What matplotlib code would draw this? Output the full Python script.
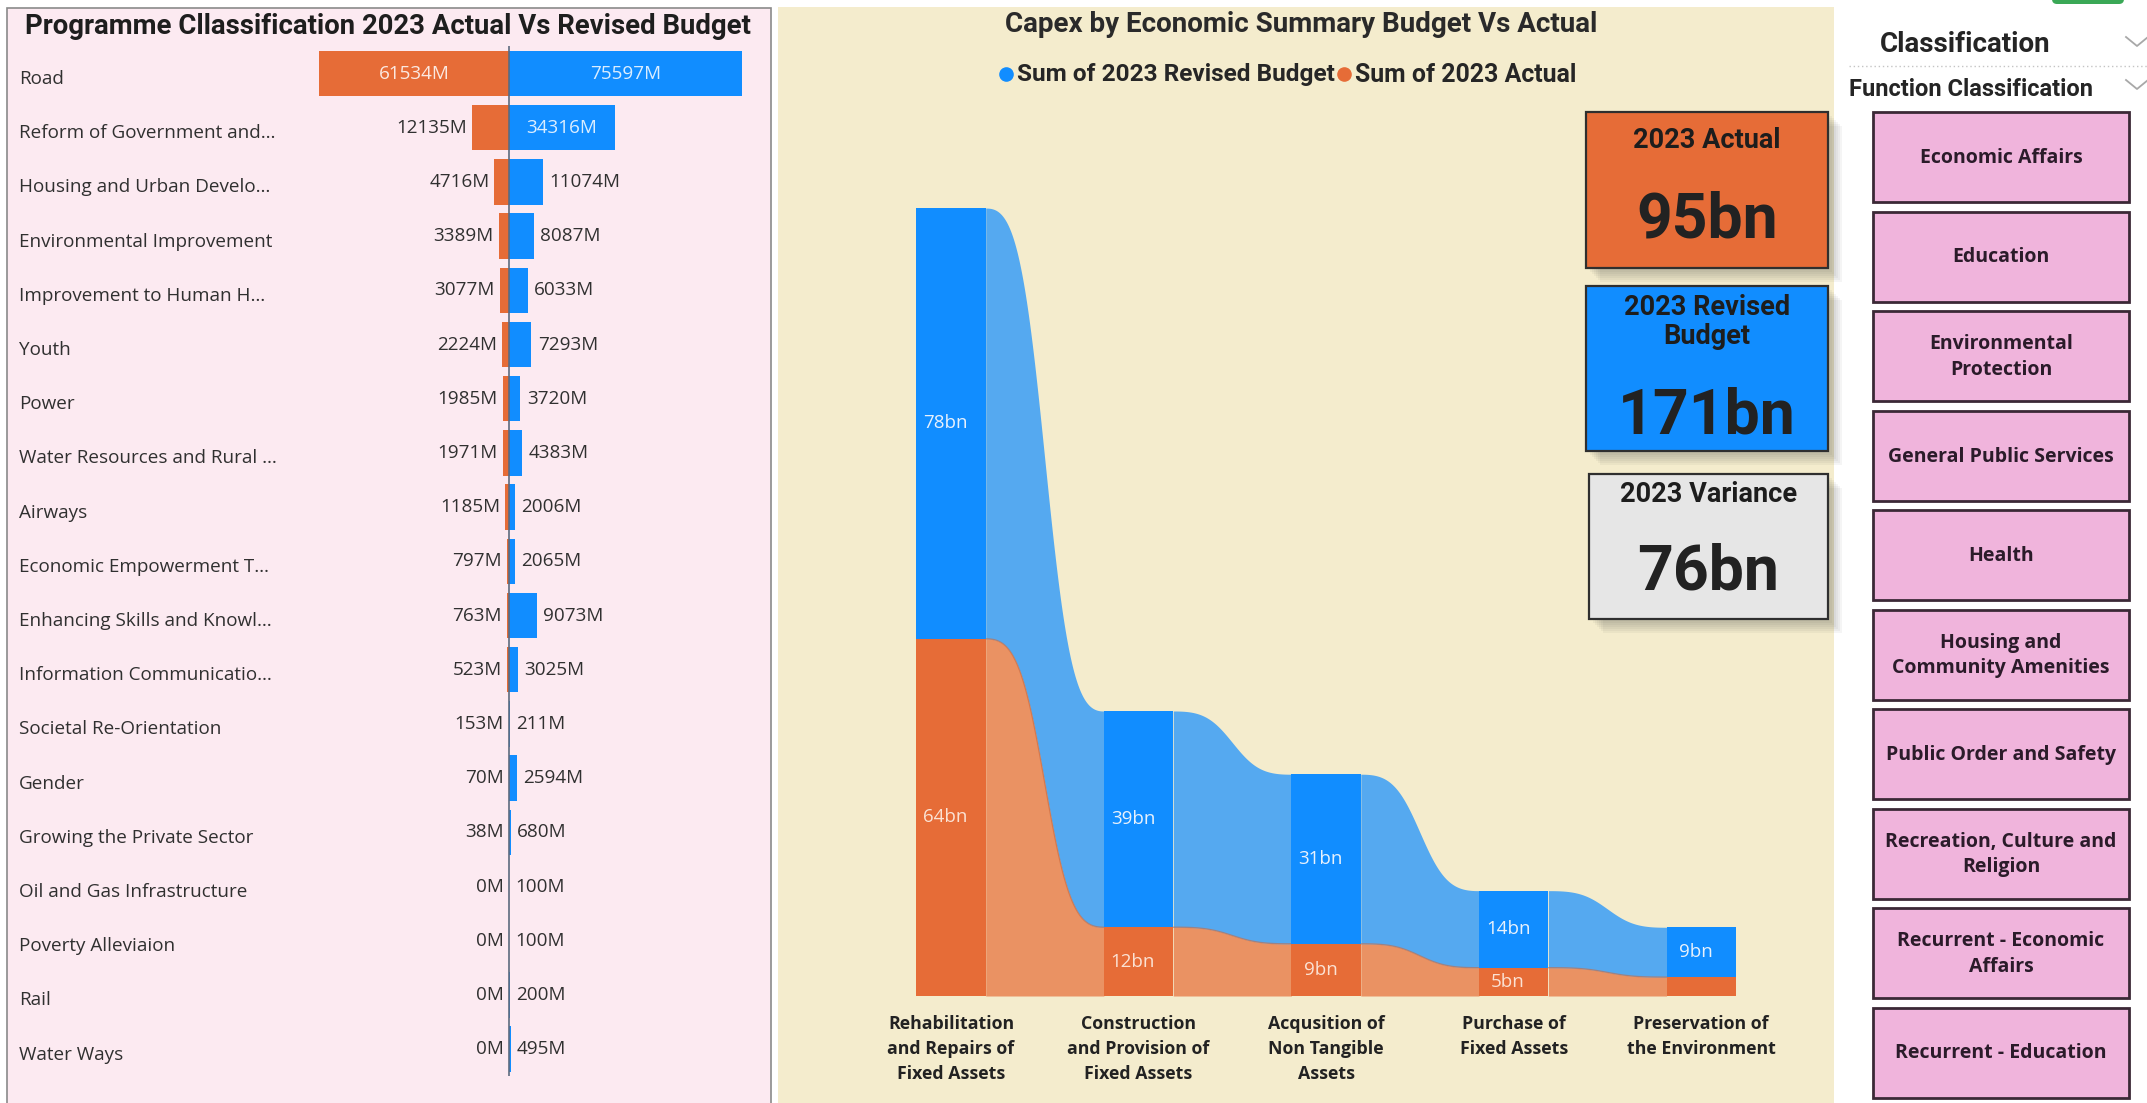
import numpy as np
import matplotlib
matplotlib.use("Agg")
import matplotlib.pyplot as plt
from matplotlib import font_manager, transforms
from matplotlib.patches import Rectangle, FancyBboxPatch

W, H = 2147, 1103

# ---------------- data ----------------
programmes = ["Road", "Reform of Government and\u2026", "Housing and Urban Develo\u2026",
              "Environmental Improvement", "Improvement to Human H\u2026", "Youth", "Power",
              "Water Resources and Rural \u2026", "Airways", "Economic Empowerment T\u2026",
              "Enhancing Skills and Knowl\u2026", "Information Communicatio\u2026",
              "Societal Re-Orientation", "Gender", "Growing the Private Sector",
              "Oil and Gas Infrastructure", "Poverty Alleviaion", "Rail", "Water Ways"]
actual_m = [61534, 12135, 4716, 3389, 3077, 2224, 1985, 1971, 1185, 797, 763, 523,
            153, 70, 38, 0, 0, 0, 0]
budget_m = [75597, 34316, 11074, 8087, 6033, 7293, 3720, 4383, 2006, 2065, 9073, 3025,
            211, 2594, 680, 100, 100, 200, 495]

econ_cats = ["Rehabilitation\nand Repairs of\nFixed Assets",
             "Construction\nand Provision of\nFixed Assets",
             "Acqusition of\nNon Tangible\nAssets",
             "Purchase of\nFixed Assets",
             "Preservation of\nthe Environment"]
econ_budget_bn = [77.7, 39.0, 30.6, 13.9, 9.0]
econ_actual_bn = [64.4, 12.4, 9.4, 5.1, 3.4]

kpi_actual_bn = 95
kpi_budget_bn = 171
kpi_variance_bn = kpi_budget_bn - kpi_actual_bn

functions = ["Economic Affairs", "Education", "Environmental\nProtection",
             "General Public Services", "Health", "Housing and\nCommunity Amenities",
             "Public Order and Safety", "Recreation, Culture and\nReligion",
             "Recurrent - Economic\nAffairs", "Recurrent - Education"]

# ---------------- styling ----------------
BLUE = "#118DFF"
ORANGE = "#E66C37"


def pick(*names):
    for n in names:
        try:
            font_manager.findfont(font_manager.FontProperties(family=n), fallback_to_default=False)
            return n
        except ValueError:
            pass
    return "DejaVu Sans"


UI = pick("Segoe UI", "Open Sans", "Noto Sans")
DIN = pick("DIN", "Roboto", "DejaVu Sans")

fig = plt.figure(figsize=(W / 100, H / 100), dpi=100, facecolor="white")
renderer = fig.canvas.get_renderer()


def frac(x0, y0, x1, y1):
    return [x0 / W, 1 - y1 / H, (x1 - x0) / W, (y1 - y0) / H]


def fit(txt, width):
    bb = txt.get_window_extent(renderer)
    txt.set_fontsize(txt.get_fontsize() * width / bb.width)


bg = fig.add_axes([0, 0, 1, 1])
bg.set_xlim(0, W)
bg.set_ylim(H, 0)
bg.axis("off")

# panels
bg.add_patch(Rectangle((7, 8), 764, 1110, fc="#FCEAF1", ec="#8a8a8a", lw=1.2))
bg.add_patch(Rectangle((778, 7), 1056, 1100, fc="#F4ECCD", ec="none"))

t = bg.text(388, 27, "Programme Cllassification 2023 Actual Vs Revised Budget", family=DIN,
            weight="bold", size=18, ha="center", va="center", color="#1e1e1e")
fit(t, 728)
t = bg.text(1301, 25, "Capex by Economic Summary Budget Vs Actual", family=DIN,
            weight="bold", size=16, ha="center", va="center", color="#2a2a2a")
fit(t, 594)

# ---------------- diverging bar chart ----------------
px_per_m = 0.00308
cx = 509
axb = fig.add_axes(frac(290, 46.4, 765, 1076.2))
axb.set_xlim(-(cx - 290) / px_per_m, (765 - cx) / px_per_m)
axb.set_ylim(len(programmes) - 0.5, -0.5)
axb.axis("off")
rows = np.arange(len(programmes))
axb.barh(rows, [-a for a in actual_m], height=0.84, color=ORANGE)
axb.barh(rows, budget_m, height=0.84, color=BLUE)
axb.axvline(0, color="#5d6b7e", lw=1.2, zorder=3)

lab_tr = transforms.blended_transform_factory(bg.transData, axb.transData)
fs = 13.6
for i, (name, a, b) in enumerate(zip(programmes, actual_m, budget_m)):
    axb.text(19, i + 0.1, name, transform=lab_tr, ha="left", va="center", family=UI,
             size=fs, color="#303030", clip_on=False)
    if a > 20000:
        axb.text(-a / 2, i, f"{a}M", ha="center", va="center", family=UI, size=fs,
                 color="white", alpha=0.85)
    else:
        axb.annotate(f"{a}M", (-a, i), xytext=(-3.5, 0), textcoords="offset points",
                     ha="right", va="center", family=UI, size=fs, color="#303030")
    if b > 20000:
        axb.text(b / 2, i, f"{b}M", ha="center", va="center", family=UI, size=fs,
                 color="white", alpha=0.85)
    else:
        axb.annotate(f"{b}M", (b, i), xytext=(4.5, 0), textcoords="offset points",
                     ha="left", va="center", family=UI, size=fs, color="#303030")

# ---------------- ribbon chart ----------------
px_per_bn = 5.545
base_y = 996
top_y = 160
axr = fig.add_axes(frac(857.25, top_y, 1795, base_y))
axr.set_xlim(-0.5, len(econ_cats) - 0.5)
axr.set_ylim(0, (base_y - top_y) / px_per_bn)
axr.axis("off")

cw = 0.37
act = np.array(econ_actual_bn)
tot = act + np.array(econ_budget_bn)
tt = np.linspace(0, 1, 120)
ss = tt ** 2.3 / (tt ** 2.3 + (1 - tt) ** 2.3)
for i in range(len(econ_cats) - 1):
    x0, x1 = i + cw / 2, i + 1 - cw / 2
    xs = x0 + (x1 - x0) * tt
    a_line = act[i] + (act[i + 1] - act[i]) * ss
    t_line = tot[i] + (tot[i + 1] - tot[i]) * ss
    axr.fill_between(xs, 0, a_line, color=ORANGE, alpha=0.7, lw=0)
    axr.fill_between(xs, a_line, t_line, color=BLUE, alpha=0.7, lw=0)
    axr.plot(xs, a_line, color="#c9683f", lw=1, alpha=0.6)

xcol = np.arange(len(econ_cats))
axr.bar(xcol, act, width=cw, color=ORANGE, zorder=3)
axr.bar(xcol, econ_budget_bn, bottom=act, width=cw, color=BLUE, zorder=3)
for i in range(len(econ_cats)):
    if econ_budget_bn[i] >= 4.5:
        axr.text(i - 0.03, act[i] + econ_budget_bn[i] / 2, f"{round(econ_budget_bn[i])}bn",
                 ha="center", va="center", family=UI, size=13.5, color="#e8f1fc", zorder=4)
    if act[i] >= 4.5:
        axr.text(i - 0.03, act[i] / 2, f"{round(act[i])}bn", ha="center", va="center",
                 family=UI, size=13.5, color="#fbe2d4", zorder=4)
    axr.text(i, -19 / px_per_bn, econ_cats[i], ha="center", va="top", family=UI,
             weight="bold", size=12.8, color="#222222", linespacing=1.5, clip_on=False)

# legend
bg.plot(1006, 74, "o", ms=9.5, color=BLUE)
t = bg.text(1017, 75, "Sum of 2023 Revised Budget", family=DIN, weight="bold", size=13,
            ha="left", va="center", color="#262626")
fit(t, 318)
bg.plot(1344, 74, "o", ms=9.5, color=ORANGE)
t = bg.text(1355, 75, "Sum of 2023 Actual", family=DIN, weight="bold", size=13,
            ha="left", va="center", color="#262626")
fit(t, 221)

# ---------------- KPI cards ----------------
cards = [((1586, 112, 242, 156), ORANGE, "2023 Actual", 141, kpi_actual_bn, 220),
         ((1586, 286, 242, 165), BLUE, "2023 Revised\nBudget", 322, kpi_budget_bn, 416),
         ((1589, 474, 239, 145), "#E6E6E6", "2023 Variance", 494, kpi_variance_bn, 573)]
for (x, y, w, h), fc, title, ty, val, vy in cards:
    for k in range(6):
        bg.add_patch(Rectangle((x + 4 + k * 2, y + 4 + k * 2), w, h, fc="#555555",
                               alpha=0.06, ec="none"))
    bg.add_patch(Rectangle((x, y), w, h, fc=fc, ec="#2f2f2f", lw=1.6))
    bg.text(x + w / 2, ty, title, family=DIN, weight="bold", size=19.5, ha="center",
            va="center", color="#1d1d1d", linespacing=1.1)
    bg.text(x + w / 2, vy, f"{val}bn", family=DIN, weight="bold", size=45, ha="center",
            va="center", color="#222222")

# ---------------- slicer panel ----------------
bg.add_patch(FancyBboxPatch((2052, -8), 72, 12, boxstyle="round,pad=0,rounding_size=5",
                            fc="#3aa856", ec="none"))
t = bg.text(1965, 45, "Classification", family=DIN, weight="bold", size=17, ha="center",
            va="center", color="#252525")
fit(t, 171)
t = bg.text(1849, 89, "Function Classification", family=DIN, weight="bold", size=14,
            ha="left", va="center", color="#252525")
fit(t, 245)
for yc in (42, 85):
    bg.plot([2126, 2137, 2148], [yc - 5, yc + 4, yc - 5], color="#a8a8a8", lw=1.3)
bg.plot([1849, 2147], [66, 66], ls=(0, (1, 2)), color="#c4c4c4", lw=1)

for k, name in enumerate(functions):
    y0 = 112 + k * 99.5
    bg.add_patch(Rectangle((1873, y0), 256, 90, fc="#F0B4DC", ec="#3b2836", lw=2))
    bg.text(2001, y0 + 46, name, family=UI, weight="bold", size=14, ha="center",
            va="center", color="#2b1b2a", linespacing=1.35)

fig.savefig("out.png", dpi=100, facecolor="white")
